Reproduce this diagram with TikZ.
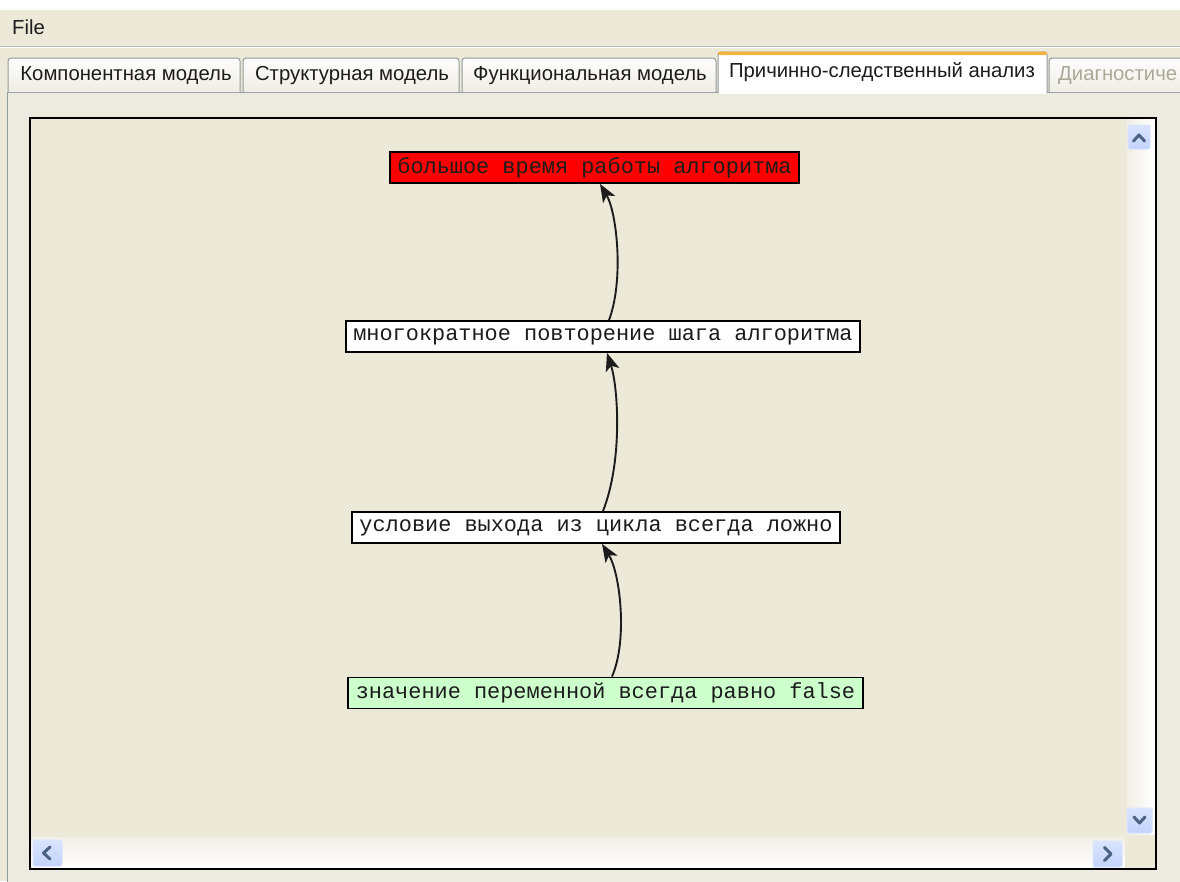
\documentclass[tikz,border=0pt]{standalone}
\usepackage{fontspec}
\setmainfont{Liberation Sans}
\newfontfamily\causemono{Liberation Mono}
\usetikzlibrary{arrows.meta,calc}

\definecolor{winbg}{HTML}{ECE9D8}
\definecolor{panebg}{HTML}{EDEADF}
\definecolor{tabborder}{HTML}{919B9C}
\definecolor{tabtop}{HTML}{FEFEFE}
\definecolor{tabbot}{HTML}{EFEDE4}
\definecolor{selorange}{HTML}{F2B33D}
\definecolor{sbtrack}{HTML}{F1EFE6}
\definecolor{sbbtn}{HTML}{C3D3FD}
\definecolor{sbbtnlight}{HTML}{D9E4FE}
\definecolor{sbarrow}{HTML}{4D6185}
\definecolor{causered}{HTML}{FF0000}
\definecolor{causegreen}{HTML}{CCFFCC}
\definecolor{inktext}{HTML}{1C1C1C}
\definecolor{greytext}{HTML}{ACA899}

\tikzset{
  uitext/.style={font=\fontsize{20.3}{24}\selectfont, text=inktext, inner sep=0pt},
  tabshape/.style={draw=tabborder, line width=1pt, rounded corners=3pt,
    top color=tabtop, bottom color=tabbot},
  sbbutton/.style={draw=sbbtnlight, line width=1pt, rounded corners=2pt,
    top color=sbbtnlight, bottom color=sbbtn},
  sbchevron/.style={draw=sbarrow, line width=3pt, line cap=round, line join=round},
  causebox/.style={draw=black, line width=1.8pt, minimum height=31pt,
    inner xsep=7.5pt, inner ysep=0pt, text=inktext,
    font=\causemono\fontsize{21.9}{26}\selectfont},
  causelink/.style={draw=inktext, line width=1.9pt,
    -{Stealth[length=18pt,width=14pt,inset=4.5pt]}}
}

\begin{document}
\begin{tikzpicture}[x=1pt,y=-1pt]
\useasboundingbox (0,0) rectangle (1180,881);
\clip (0,0) rectangle (1180,881);

% window background and menu bar
\fill[winbg] (0,0) rectangle (1180,881);
\fill[white] (0,0) rectangle (1180,10);
\node[uitext, anchor=west] (menufile) at (12,27) {File};
\draw[tabborder!70, line width=1pt] (0,46.5) -- (1180,46.5);
\draw[white, line width=1pt] (0,47.5) -- (1180,47.5);

% tab pane body
\path[fill=panebg, draw=tabborder, line width=1pt] (7,92) rectangle (1200,900);

% unselected tabs
\path[tabshape] (8,92) -- (8,58) -- (240,58) -- (240,92);
\node[uitext] (tabcomp) at (126,75.5) {Компонентная модель};
\path[tabshape] (243,92) -- (243,58) -- (459,58) -- (459,92);
\node[uitext] (tabstruct) at (352,75.5) {Структурная модель};
\path[tabshape] (462,92) -- (462,58) -- (716,58) -- (716,92);
\node[uitext] (tabfunc) at (590,75.5) {Функциональная модель};
\path[tabshape] (1049,92) -- (1049,58) -- (1200,58) -- (1200,92);
\node[uitext, anchor=west, text=greytext] (tabdiag) at (1058,75.5) {Диагностиче};

% selected tab
\path[fill=white, draw=tabborder, line width=1pt, rounded corners=3pt]
  (718,93) -- (718,52) -- (1047,52) -- (1047,93);
\fill[white] (718.6,90) rectangle (1046.4,94);
\fill[selorange, rounded corners=2pt] (718,51.5) rectangle (1047,55);
\node[uitext] (tabcause) at (882,72.5) {Причинно-следственный анализ};

% drawing area frame
\path[fill=winbg, draw=black, line width=1.5pt] (30,118) rectangle (1156,869);

% vertical scroll bar
\shade[left color=sbtrack, right color=white] (1127,119) rectangle (1155,835);
\path[sbbutton] (1128,125) rectangle (1150,149);
\draw[sbchevron] (1133.5,141) -- (1139,135) -- (1144.5,141);
\path[sbbutton] (1127,808) rectangle (1152,833);
\draw[sbchevron] (1134,817) -- (1139.5,823) -- (1145,817);

% horizontal scroll bar
\shade[top color=sbtrack, bottom color=white] (31,837) rectangle (1125,868);
\fill[winbg] (1125,835) rectangle (1155,868);
\path[sbbutton] (33,840) rectangle (62,866);
\draw[sbchevron] (50,847) -- (43.5,853) -- (50,859);
\path[sbbutton] (1093,841) rectangle (1122,867);
\draw[sbchevron] (1104.5,847.5) -- (1111,854) -- (1104.5,860.5);
\draw[black, line width=1.5pt] (30,118) rectangle (1156,869);

% cause-and-effect chain
\node[causebox, fill=causered] (effect) at (594.5,167.5)
  {большое время работы алгоритма};
\node[causebox, fill=white] (repeat) at (603,336.5)
  {многократное повторение шага алгоритма};
\node[causebox, fill=white] (loopcond) at (596,527.5)
  {условие выхода из цикла всегда ложно};
\node[causebox, fill=causegreen] (rootcause) at (605.5,693)
  {значение переменной всегда равно false};

\draw[causelink] ([xshift=6pt]repeat.north)
  .. controls +(15,-40) and +(17,29) .. ([xshift=5.5pt]effect.south);
\draw[causelink] ([xshift=7pt]loopcond.north)
  .. controls +(20,-51) and +(11,34) .. ([xshift=4pt]repeat.south);
\draw[causelink] ([xshift=6.5pt]rootcause.north)
  .. controls +(16,-37) and +(18,29) .. ([xshift=6pt]loopcond.south);
\end{tikzpicture}
\end{document}
